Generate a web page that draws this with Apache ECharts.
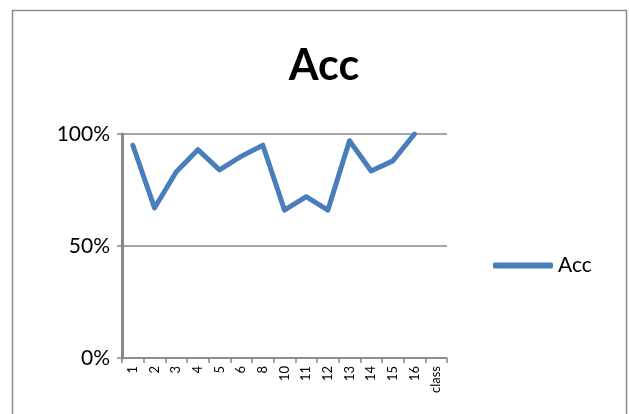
<!DOCTYPE html>
<html>
<head>
<meta charset="utf-8">
<script src="https://cdn.jsdelivr.net/npm/echarts@6/dist/echarts.min.js"></script>
<style>
  html, body { margin: 0; padding: 0; background: #fff; }
  #chart { width: 629px; height: 414px; }
</style>
</head>
<body>
<div id="chart"></div>
<script>
// Accuracy per class
const categories = ['1', '2', '3', '4', '5', '6', '8', '10', '11', '12', '13', '14', '15', '16', 'class'];
const accValues = [0.95, 0.67, 0.83, 0.93, 0.84, 0.90, 0.95, 0.66, 0.72, 0.66, 0.97, 0.835, 0.88, 1.00, null];
const yTicks = [0, 0.5, 1];

const font = 'Lato, "Open Sans", sans-serif';
const lineColor = '#4a7ebb';
const gridColor = '#878787';

const chart = echarts.init(document.getElementById('chart'), null, { renderer: 'canvas' });
chart.setOption({
  animation: false,
  backgroundColor: '#fff',
  graphic: [{
    type: 'rect',
    shape: { x: 12.5, y: 10.5, width: 614, height: 420 },
    style: { fill: 'none', stroke: '#8c8c8c', lineWidth: 1.5 },
    silent: true
  }],
  title: {
    text: 'Acc',
    left: 319,
    textAlign: 'center',
    top: 40,
    textStyle: { fontFamily: font, fontWeight: 'bold', fontSize: 43, color: '#000' }
  },
  legend: {
    data: ['Acc'],
    left: 488,
    top: 250,
    itemWidth: 60,
    itemHeight: 6,
    itemGap: 9,
    icon: 'roundRect',
    itemStyle: { color: lineColor },
    textStyle: { fontFamily: font, fontSize: 21, color: '#000' }
  },
  grid: { left: 122, right: 182, top: 134, bottom: 56, containLabel: false },
  xAxis: {
    type: 'category',
    data: categories,
    boundaryGap: true,
    axisLine: { lineStyle: { color: gridColor, width: 1.5 } },
    axisTick: { show: true, length: 5, lineStyle: { color: gridColor, width: 1.5 } },
    axisLabel: {
      rotate: 90,
      margin: 8,
      interval: 0,
      fontFamily: font,
      fontSize: 13,
      color: '#000'
    }
  },
  yAxis: {
    type: 'value',
    min: 0,
    max: 1,
    interval: 0.5,
    axisLine: { show: true, lineStyle: { color: gridColor, width: 3 } },
    axisTick: { show: true, length: 5, lineStyle: { color: gridColor, width: 1.5 } },
    splitLine: { show: true, lineStyle: { color: gridColor, width: 1.5 } },
    axisLabel: {
      margin: 12,
      fontFamily: font,
      fontSize: 21,
      color: '#000',
      formatter: v => yTicks.includes(v) ? Math.round(v * 100) + '%' : ''
    }
  },
  series: [{
    name: 'Acc',
    type: 'line',
    data: accValues,
    symbol: 'none',
    lineStyle: { color: lineColor, width: 5, join: 'round', cap: 'round' },
    itemStyle: { color: lineColor }
  }]
});
</script>
</body>
</html>
